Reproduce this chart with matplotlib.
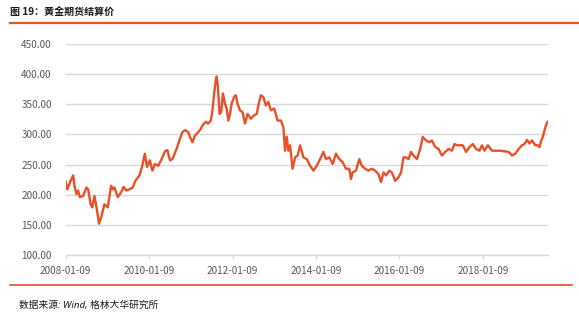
import matplotlib
matplotlib.use("Agg")
import matplotlib.pyplot as plt
import numpy as np
import pandas as pd

plt.rcParams['font.family'] = ['Noto Sans CJK SC', 'DejaVu Sans']

# Decimal-year positions and settlement prices (yuan/gram)
years = [
    2008.02, 2008.06, 2008.12, 2008.20, 2008.24, 2008.28, 2008.32, 2008.36, 2008.44, 2008.52,
    2008.56, 2008.62, 2008.66, 2008.71, 2008.75, 2008.82, 2008.87, 2008.95, 2009.03, 2009.11,
    2009.15, 2009.19, 2009.27, 2009.35, 2009.41, 2009.47, 2009.55, 2009.63, 2009.69, 2009.79,
    2009.85, 2009.92, 2009.97, 2010.04, 2010.10, 2010.16, 2010.24, 2010.32, 2010.40, 2010.46,
    2010.52, 2010.58, 2010.68, 2010.76, 2010.82, 2010.88, 2010.96, 2011.00, 2011.06, 2011.12,
    2011.20, 2011.26, 2011.30, 2011.38, 2011.44, 2011.50, 2011.54, 2011.58, 2011.62, 2011.64,
    2011.67, 2011.71, 2011.75, 2011.79, 2011.84, 2011.88, 2011.92, 2011.96, 2012.00, 2012.06,
    2012.10, 2012.14, 2012.20, 2012.26, 2012.32, 2012.38, 2012.46, 2012.54, 2012.60, 2012.65,
    2012.70, 2012.76, 2012.82, 2012.88, 2012.94, 2013.02, 2013.10, 2013.18, 2013.24, 2013.28,
    2013.32, 2013.36, 2013.40, 2013.46, 2013.52, 2013.58, 2013.64, 2013.72, 2013.80, 2013.88,
    2013.96, 2014.04, 2014.12, 2014.20, 2014.26, 2014.34, 2014.42, 2014.50, 2014.58, 2014.66,
    2014.74, 2014.82, 2014.86, 2014.90, 2014.98, 2015.06, 2015.12, 2015.20, 2015.28, 2015.36,
    2015.44, 2015.52, 2015.58, 2015.64, 2015.70, 2015.78, 2015.84, 2015.92, 2016.00, 2016.06,
    2016.12, 2016.18, 2016.24, 2016.30, 2016.36, 2016.44, 2016.52, 2016.58, 2016.66, 2016.74,
    2016.80, 2016.88, 2016.96, 2017.04, 2017.12, 2017.20, 2017.28, 2017.34, 2017.40, 2017.48,
    2017.54, 2017.62, 2017.70, 2017.78, 2017.86, 2017.94, 2018.00, 2018.06, 2018.14, 2018.24,
    2018.34, 2018.44, 2018.54, 2018.64, 2018.72, 2018.80, 2018.88, 2018.96, 2019.02, 2019.08,
    2019.14, 2019.20, 2019.28, 2019.34, 2019.38, 2019.42, 2019.46, 2019.52, 2019.57, 2019.60,
]
prices = [
    222, 209, 220, 232, 212, 201, 207, 196, 198, 212,
    209, 184, 179, 198, 184, 152, 162, 184, 179, 215,
    209, 212, 196, 204, 213, 207, 209, 212, 223, 232,
    246, 268, 246, 257, 240, 251, 248, 259, 272, 274,
    257, 259, 276, 293, 304, 307, 304, 296, 287, 298,
    304, 309, 315, 321, 318, 323, 340, 368, 390, 396,
    379, 334, 337, 368, 351, 343, 323, 334, 351, 362,
    365, 351, 340, 337, 318, 334, 326, 332, 334, 351,
    365, 362, 348, 354, 340, 343, 323, 323, 312, 273,
    296, 273, 282, 243, 262, 265, 282, 262, 259, 248,
    240, 248, 259, 271, 259, 262, 251, 268, 259, 254,
    243, 243, 226, 237, 240, 259, 248, 243, 240, 243,
    240, 234, 221, 237, 232, 240, 237, 223, 229, 237,
    262, 262, 259, 271, 265, 259, 276, 296, 290, 287,
    290, 279, 276, 265, 271, 276, 273, 284, 282, 282,
    282, 271, 279, 284, 276, 273, 282, 273, 282, 273,
    273, 273, 272, 271, 265, 268, 276, 282, 284, 291,
    285, 290, 282, 282, 279, 290, 296, 312, 321, 322,
]

yticks = [100, 150, 200, 250, 300, 350, 400, 450]
xtick_labels = ['2008-01-09', '2010-01-09', '2012-01-09', '2014-01-09', '2016-01-09', '2018-01-09']
title = '图 19：黄金期货结算价'
source = '数据来源: Wind, 格林大华研究所'

def to_date(y):
    return pd.Timestamp('2008-01-01') + pd.to_timedelta((y - 2008.0) * 365.25, unit='D')

dates = [to_date(y) for y in years]

W, H = 579, 318
fig = plt.figure(figsize=(W / 100, H / 100), dpi=100)
ax = fig.add_axes([65.7 / W, 1 - 255 / H, (547.7 - 65.7) / W, (255 - 44) / H])

line_color = '#E8502A'
ax.plot(dates, prices, color=line_color, linewidth=1.7)

ax.set_ylim(100, 450)
ax.set_yticks(yticks)
ax.set_yticklabels([f'{v:.2f}' for v in yticks])
ax.set_xlim(pd.Timestamp('2008-01-09'), pd.Timestamp('2019-07-30'))
ax.set_xticks([pd.Timestamp(s) for s in xtick_labels])
ax.set_xticklabels(xtick_labels)

ax.grid(axis='y', color='#D9D9D9', linewidth=1.0)
ax.set_axisbelow(True)
for s in ['top', 'right', 'left']:
    ax.spines[s].set_visible(False)
ax.spines['bottom'].set_color('#D9D9D9')
ax.spines['bottom'].set_linewidth(1.0)
ax.tick_params(axis='y', length=0, pad=10, labelsize=7.2, labelcolor='#595959')
ax.tick_params(axis='x', length=3, width=1, color='#D9D9D9', pad=5, labelsize=7.2, labelcolor='#595959')

fig.text(10 / W, 1 - 12 / H, title, fontsize=7.2, color='#1a1a1a', ha='left', va='center', fontweight='bold')
fig.add_artist(plt.Line2D([10 / W, 1.0], [1 - 22.5 / H, 1 - 22.5 / H], color=line_color, linewidth=1.6,
                          transform=fig.transFigure))
fig.add_artist(plt.Line2D([10 / W, 572 / W], [1 - 285 / H, 1 - 285 / H], color=line_color, linewidth=1.2,
                          transform=fig.transFigure))
fig.text(19 / W, 1 - 305 / H, source, fontsize=7, color='#1a1a1a', ha='left', va='center',
         fontstyle='italic', family=['Noto Sans', 'Noto Sans CJK SC', 'DejaVu Sans'])

fig.savefig('out.png', dpi=100)
